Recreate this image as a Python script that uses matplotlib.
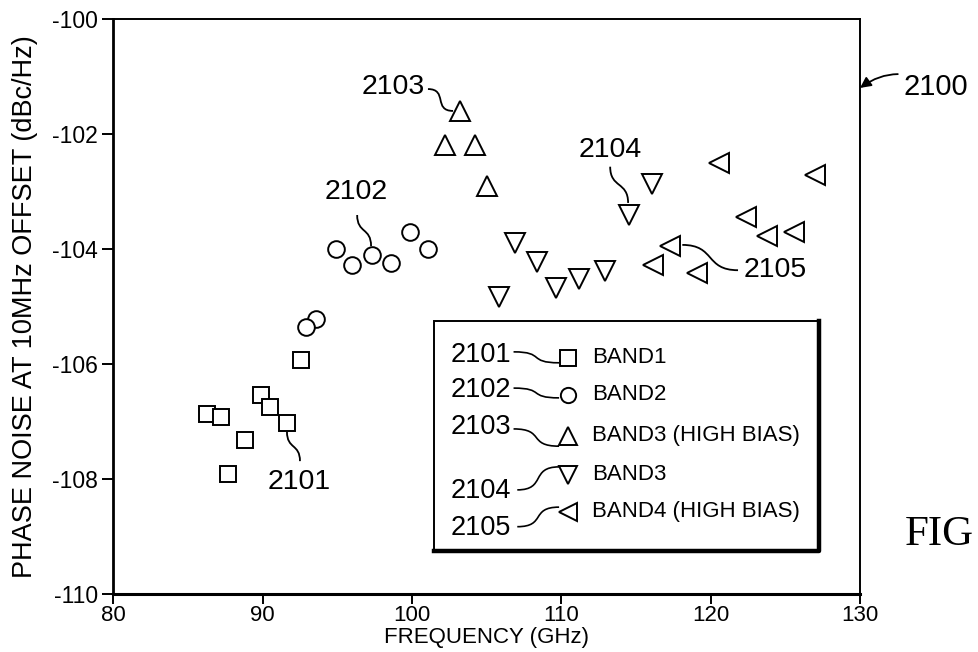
import numpy as np
import matplotlib
matplotlib.use('Agg')
import matplotlib.pyplot as plt
from matplotlib.path import Path
from matplotlib.patches import PathPatch, Rectangle

plt.rcParams['font.family'] = ['Liberation Sans', 'DejaVu Sans']
plt.rcParams['axes.unicode_minus'] = False

# frequency (GHz) / phase noise (dBc/Hz)
band1_f = [86.3, 87.2, 89.9, 90.5, 91.6, 92.6, 88.8, 87.7]
band1_pn = [-106.87, -106.92, -106.54, -106.75, -107.03, -105.93, -107.32, -107.91]

band2_f = [94.9, 96.0, 97.3, 98.6, 99.9, 101.1, 93.6, 92.9]
band2_pn = [-104.0, -104.28, -104.1, -104.25, -103.71, -104.0, -105.21, -105.35]

band3hb_f = [103.2, 102.2, 104.2, 105.0]
band3hb_pn = [-101.61, -102.19, -102.19, -102.9]

band3_f = [105.8, 106.9, 108.4, 109.65, 111.2, 112.9, 114.5, 116.1]
band3_pn = [-104.83, -103.9, -104.22, -104.68, -104.52, -104.39, -103.41, -102.87]

band4hb_f = [116.15, 117.3, 119.05, 120.55, 122.35, 123.8, 125.6, 127.0]
band4hb_pn = [-104.28, -103.95, -104.41, -102.51, -103.44, -103.77, -103.7, -102.71]

legend_labels = ['BAND1', 'BAND2', 'BAND3 (HIGH BIAS)', 'BAND3', 'BAND4 (HIGH BIAS)']
legend_refs = ['2101', '2102', '2103', '2104', '2105']
markers = ['s', 'o', '^', 'v', '<']


def squiggle(ax, p0, p1, trans, horiz=True, k=0.6, lw=1.3):
    # little s-shaped leader line like in the patent drawing
    x0, y0 = p0
    x1, y1 = p1
    dx, dy = x1 - x0, y1 - y0
    if horiz:
        c1, c2 = (x0 + k*dx, y0), (x1 - k*dx, y1)
    else:
        c1, c2 = (x0, y0 + k*dy), (x1, y1 - k*dy)
    path = Path([p0, c1, c2, p1], [Path.MOVETO, Path.CURVE4, Path.CURVE4, Path.CURVE4])
    ax.add_patch(PathPatch(path, fc='none', ec='black', lw=lw, transform=trans,
                           clip_on=False, zorder=6))


fig = plt.figure(figsize=(9.79, 6.52), dpi=100)
ax = fig.add_axes([0.1157, 0.089, 0.7628, 0.882])

mk = dict(linestyle='none', mfc='white', mec='black', mew=1.4)
ax.plot(band1_f, band1_pn, marker='s', ms=12, **mk)
ax.plot(band2_f, band2_pn, marker='o', ms=12, **mk)
ax.plot(band3hb_f, band3hb_pn, marker='^', ms=14.5, **mk)
ax.plot(band3_f, band3_pn, marker='v', ms=14.5, **mk)
ax.plot(band4hb_f, band4hb_pn, marker='<', ms=14.5, **mk)

ax.set_xlim(80, 130)
ax.set_ylim(-110, -100)
ax.set_xticks(np.arange(80, 131, 10))
ax.set_yticks(np.arange(-110, -99, 2))
ax.tick_params(axis='both', direction='out', width=1.4, colors='black')
ax.tick_params(axis='x', length=7, labelsize=16, pad=1)
ax.tick_params(axis='y', length=8, labelsize=16.5, pad=3)
for s in ax.spines.values():
    s.set_linewidth(1.4)
ax.spines['bottom'].set_linewidth(2.2)
ax.spines['left'].set_linewidth(2.0)

ax.set_xlabel('FREQUENCY (GHz)', fontsize=16, labelpad=1)
ax.set_ylabel('PHASE NOISE AT 10MHz OFFSET (dBc/Hz)', fontsize=19.5, labelpad=10)

# reference numerals on the data
num = dict(fontsize=20.5, ha='center', va='center')
ax.text(92.43, -108.05, '2101', **num)
squiggle(ax, (91.63, -107.18), (92.5, -107.69), ax.transData, horiz=False)
ax.text(96.26, -103.01, '2102', **num)
squiggle(ax, (96.33, -103.41), (97.26, -103.95), ax.transData, horiz=False)
ax.text(98.75, -101.18, '2103', **num)
squiggle(ax, (101.07, -101.22), (102.75, -101.6), ax.transData, horiz=True, k=0.8)
ax.text(113.27, -102.28, '2104', **num)
squiggle(ax, (113.27, -102.57), (114.47, -103.2), ax.transData, horiz=False)
ax.text(124.31, -104.37, '2105', **num)
squiggle(ax, (121.83, -104.37), (118.1, -103.93), ax.transData, horiz=True)

# figure reference with arrow to the frame
ax.annotate('2100', xy=(1.0, 0.88), xycoords='axes fraction',
            xytext=(1.058, 0.882), textcoords='axes fraction',
            fontsize=21, ha='left', va='center',
            arrowprops=dict(arrowstyle='-|>', color='black', lw=1.3,
                            shrinkA=2, shrinkB=0, mutation_scale=16,
                            connectionstyle='arc3,rad=0.35'))
fig.text(0.924, 0.18, 'FIG', fontsize=31, family=['Liberation Serif', 'DejaVu Serif'],
         ha='left', va='center')

# hand drawn legend box
bx0, by0, bx1, by1 = 0.4295, 0.0748, 0.945, 0.4748
ax.add_patch(Rectangle((bx0, by0), bx1 - bx0, by1 - by0, transform=ax.transAxes,
                       fc='white', ec='black', lw=1.4, zorder=3))
ax.plot([bx0, bx1, bx1], [by0, by0, by1], transform=ax.transAxes, color='black', lw=3.2,
        zorder=4, solid_capstyle='projecting')

row_y = [0.4104, 0.3461, 0.2748, 0.2070, 0.1426]
ref_y = [0.4157, 0.3548, 0.2904, 0.1791, 0.1148]
lead_a = [(0.536, 0.421), (0.536, 0.358), (0.536, 0.287), (0.541, 0.181), (0.541, 0.117)]
lead_b = [(0.597, 0.402), (0.597, 0.341), (0.597, 0.257), (0.597, 0.221), (0.597, 0.151)]
leg_ms = [11, 11, 13, 13, 13]
for i in range(5):
    ax.plot([0.609], [row_y[i]], marker=markers[i], ms=leg_ms[i], transform=ax.transAxes,
            zorder=5, **mk)
    ax.text(0.641, row_y[i], legend_labels[i], transform=ax.transAxes, fontsize=16,
            ha='left', va='center', zorder=5)
    ax.text(0.4917, ref_y[i], legend_refs[i], transform=ax.transAxes, fontsize=19.5,
            ha='center', va='center', zorder=5)
    squiggle(ax, lead_a[i], lead_b[i], ax.transAxes, horiz=True, k=0.7, lw=1.2)

fig.savefig('out.png', dpi=100)
